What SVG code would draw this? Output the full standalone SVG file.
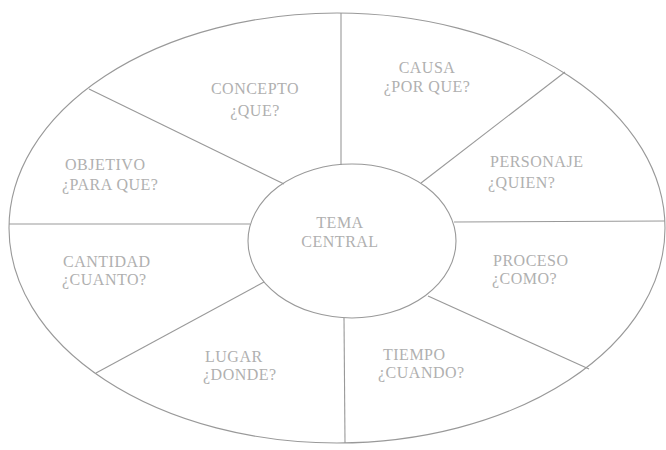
<svg xmlns="http://www.w3.org/2000/svg" width="666" height="450" viewBox="0 0 666 450">
<style>
.shape{fill:none;stroke:#999999;stroke-width:1.1}
.line{stroke:#999999;stroke-width:1.1;fill:none}
text{font-family:"Liberation Serif","Times New Roman",serif;font-size:16px;fill:#b0b0b0;letter-spacing:0.5px}
.m{text-anchor:middle}
</style>
<rect width="666" height="450" fill="#ffffff"/>
<g id="outer">
<ellipse class="shape" cx="337" cy="228" rx="328" ry="215"/>
</g>
<g id="connectors">
<line class="line" x1="341" y1="13" x2="341" y2="165"/>
<line class="line" x1="344" y1="318" x2="345" y2="443"/>
<line class="line" x1="9" y1="224" x2="250" y2="224"/>
<line class="line" x1="454" y1="222" x2="665" y2="221"/>
<line class="line" x1="89" y1="89" x2="284" y2="184"/>
<line class="line" x1="565" y1="72" x2="421" y2="183"/>
<line class="line" x1="96" y1="373" x2="264" y2="282"/>
<line class="line" x1="428" y1="296" x2="589" y2="369"/>
</g>
<g id="tema-central">
<ellipse class="shape" cx="352" cy="241" rx="104" ry="77"/>
<text class="m" x="340" y="228">TEMA</text>
<text class="m" x="340" y="247">CENTRAL</text>
</g>
<g id="concepto">
<text class="m" x="255" y="94">CONCEPTO</text>
<text class="m" x="255" y="116">¿QUE?</text>
</g>
<g id="causa">
<text class="m" x="427" y="73">CAUSA</text>
<text class="m" x="427" y="92">¿POR QUE?</text>
</g>
<g id="objetivo">
<text x="65" y="170">OBJETIVO</text>
<text x="62" y="190">¿PARA QUE?</text>
</g>
<g id="personaje">
<text x="490" y="167">PERSONAJE</text>
<text x="488" y="188">¿QUIEN?</text>
</g>
<g id="cantidad">
<text x="63" y="267">CANTIDAD</text>
<text x="62" y="285">¿CUANTO?</text>
</g>
<g id="proceso">
<text x="493" y="266">PROCESO</text>
<text x="492" y="284">¿COMO?</text>
</g>
<g id="lugar">
<text x="205" y="362">LUGAR</text>
<text x="203" y="380">¿DONDE?</text>
</g>
<g id="tiempo">
<text x="383" y="360">TIEMPO</text>
<text x="378" y="378">¿CUANDO?</text>
</g>
</svg>
